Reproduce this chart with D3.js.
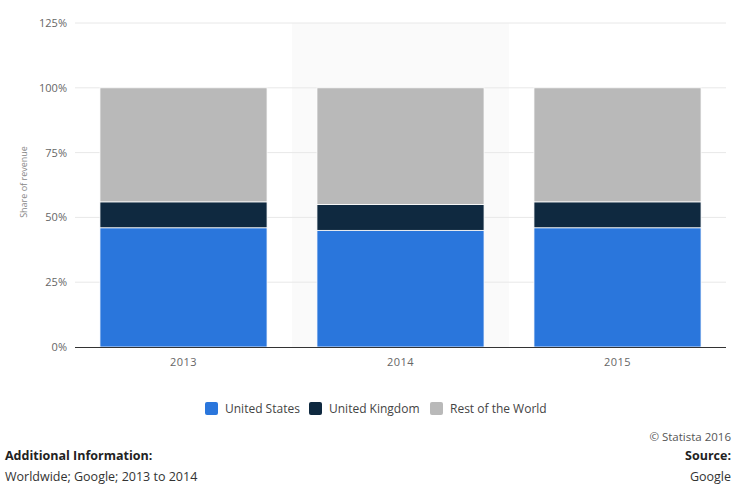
<!DOCTYPE html>
<html><head><meta charset="utf-8">
<script src="https://cdn.jsdelivr.net/npm/d3@7"></script>
<style>body{margin:0;background:#fff;font-family:"Open Sans",sans-serif;}</style>
</head><body>
<svg id="c" width="750" height="490"></svg>
<script>
const years = ["2013","2014","2015"];
const seriesNames = ["United States","United Kingdom","Rest of the World"];
const unitedStates = [46,45,46];
const unitedKingdom = [10,10,10];
const restOfWorld = [44,45,44];
const yTicks = [0,25,50,75,100,125];
const colors = ["#2a76dc","#0f2940","#b9b9b9"];

const svg = d3.select("#c");
const m = {left:75, right:726, top:23, bottom:347};
const x = d3.scaleBand().domain(years).range([m.left,m.right]).paddingInner(0.23).paddingOuter(0.115);
const y = d3.scaleLinear().domain([0,125]).range([m.bottom,m.top]);

// highlighted band
const step = x.step();
svg.append("rect").attr("x", x("2014") - (step - x.bandwidth())/2).attr("y", m.top)
  .attr("width", step).attr("height", m.bottom - m.top).attr("fill","#fafafa");

// gridlines
svg.append("g").selectAll("line").data(yTicks.filter(d=>d>0)).join("line")
  .attr("x1",m.left).attr("x2",m.right).attr("y1",d=>y(d)).attr("y2",d=>y(d))
  .attr("stroke","#e8e8e8").attr("stroke-width",1);

// y labels
svg.append("g").selectAll("text").data(yTicks).join("text")
  .attr("x",67).attr("y",d=>y(d)+4).attr("text-anchor","end")
  .attr("font-size",11).attr("fill","#666").text(d=>d+"%");

svg.append("text").attr("transform","translate(27,182) rotate(-90)")
  .attr("text-anchor","middle").attr("font-size",9).attr("fill","#888").text("Share of revenue");

// stacked data
const rows = years.map((yr,i)=>({year:yr, "United States":unitedStates[i], "United Kingdom":unitedKingdom[i], "Rest of the World":restOfWorld[i]}));
const stacked = d3.stack().keys(seriesNames)(rows);
svg.append("g").selectAll("g").data(stacked).join("g").attr("fill",(d,i)=>colors[i])
  .selectAll("rect").data(d=>d).join("rect")
  .attr("x",d=>x(d.data.year)).attr("width",x.bandwidth())
  .attr("y",d=>y(d[1])).attr("height",d=>y(d[0])-y(d[1]))
  .attr("stroke","#fff").attr("stroke-width",0.8);

// x axis line
svg.append("line").attr("x1",m.left).attr("x2",m.right).attr("y1",m.bottom+0.5).attr("y2",m.bottom+0.5)
  .attr("stroke","#333").attr("stroke-width",1.2);
svg.append("g").selectAll("text").data(years).join("text")
  .attr("x",d=>x(d)+x.bandwidth()/2).attr("y",366).attr("text-anchor","middle")
  .attr("font-size",11).attr("fill","#666").attr("letter-spacing","0.5").text(d=>d);

// legend
const legX = [205,309,430];
const leg = svg.append("g").selectAll("g").data(seriesNames).join("g")
  .attr("transform",(d,i)=>`translate(${legX[i]},402)`);
leg.append("rect").attr("width",13).attr("height",13).attr("rx",2).attr("fill",(d,i)=>colors[i]);
leg.append("text").attr("x",20).attr("y",11).attr("font-size",12).attr("fill","#444").text(d=>d);

// footer
svg.append("text").attr("x",731).attr("y",441).attr("text-anchor","end").attr("font-size",11.5).attr("fill","#555").text("© Statista 2016");
svg.append("text").attr("x",5).attr("y",460).attr("font-size",12.5).attr("font-weight","bold").attr("fill","#222").text("Additional Information:");
svg.append("text").attr("x",5).attr("y",481).attr("font-size",12.5).attr("fill","#333").text("Worldwide; Google; 2013 to 2014");
svg.append("text").attr("x",731).attr("y",460).attr("text-anchor","end").attr("font-size",12.5).attr("font-weight","bold").attr("fill","#222").text("Source:");
svg.append("text").attr("x",731).attr("y",481).attr("text-anchor","end").attr("font-size",12.5).attr("fill","#333").text("Google");
</script>
</body></html>
